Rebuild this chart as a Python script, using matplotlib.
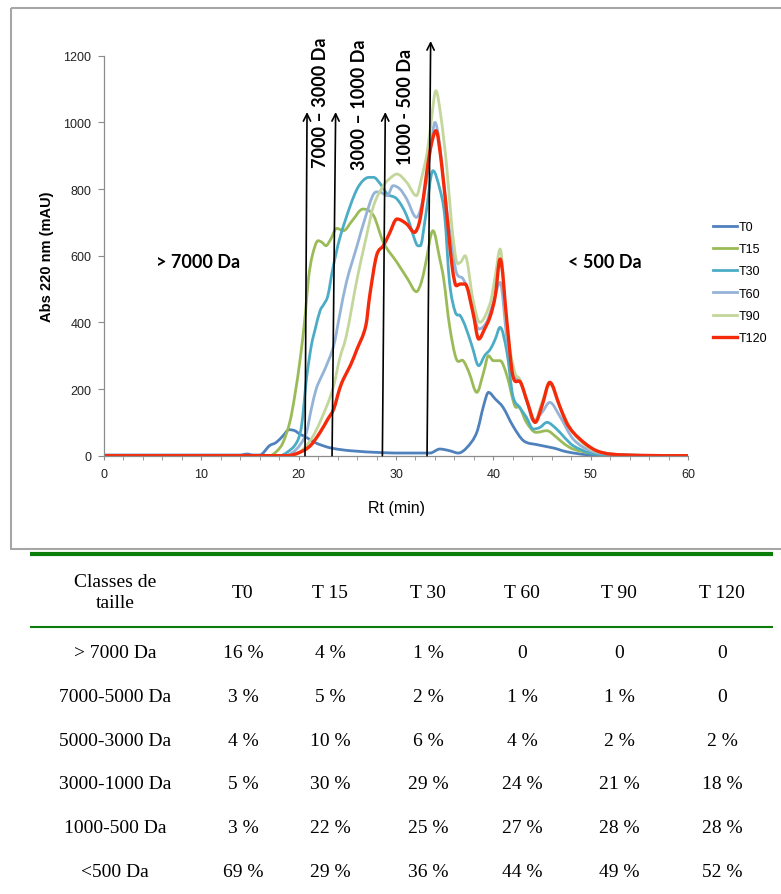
import matplotlib.pyplot as plt
from matplotlib.patches import Rectangle, PathPatch
from matplotlib.path import Path
from matplotlib.lines import Line2D

# Chromatogrammes (Rt en min, absorbance en mAU)
t0_t = [0, 14, 14.7, 15.3, 16.0, 17.0, 17.7, 18.4, 19.0, 19.6, 20.1, 20.8, 21.5, 22.5, 23.5, 25.3, 28.7, 31, 33.5,
        34.5, 35.5, 36.4, 37.3, 38.3, 39.0, 39.5, 40.2, 41.0, 42.0, 43.1, 44.5, 46.2, 47.5, 49.6, 52, 60]
t0_v = [2, 2, 5, 2, 2, 30, 40, 60, 78, 75, 65, 55, 42, 30, 22, 15, 9, 8, 8,
        20, 15, 8, 25, 70, 150, 190, 170, 145, 90, 45, 33, 23, 12, 3, 2, 0]

t15_t = [0, 17.0, 17.8, 18.4, 19.1, 19.6, 20.2, 20.7, 21.0, 21.4, 22.0, 22.4, 22.8, 23.3, 23.9, 24.6, 25.5, 26.6,
         27.7, 28.7, 30.1, 31.2, 32.1, 32.6, 33.0, 33.8, 34.5, 34.9, 35.5, 36.2, 36.9, 37.5, 38.3, 39.0, 39.5, 40.0,
         40.7, 41.4, 42.2, 42.7, 43.4, 44.4, 45.5, 46.5, 47.3, 48.2, 50, 52, 55, 60]
t15_v = [0, 0, 15, 40, 102, 180, 300, 430, 530, 600, 645, 640, 630, 650, 682, 675, 705, 740,
         720, 640, 580, 530, 492, 520, 570, 675, 590, 530, 390, 290, 285, 250, 190, 250, 300, 285,
         285, 240, 150, 145, 100, 70, 75, 55, 35, 20, 8, 3, 1, 0]

t30_t = [0, 18.0, 18.8, 19.8, 20.3, 20.8, 21.3, 21.7, 22.2, 22.6, 23.0, 23.5, 24.2, 25.3, 26.0, 26.6, 27.2, 27.7,
         28.4, 29.1, 30.1, 31.1, 32.1, 32.5, 33.0, 33.8, 34.5, 35.0, 35.5, 36.1, 36.6, 37.1, 37.8, 38.5, 39.1, 39.7,
         40.2, 40.7, 41.4, 42.0, 42.7, 43.4, 44.1, 44.8, 45.5, 46.5, 47.3, 48.2, 50, 52, 55, 60]
t30_v = [0, 0, 10, 40, 90, 230, 330, 380, 435, 455, 480, 560, 650, 750, 800, 825, 835, 835,
         815, 785, 770, 720, 635, 630, 710, 855, 800, 720, 520, 430, 420, 390, 330, 270, 300, 320,
         350, 385, 310, 180, 145, 115, 80, 85, 100, 80, 55, 30, 8, 3, 1, 0]

t60_t = [0, 18.5, 19.4, 20.2, 20.8, 21.3, 21.8, 22.3, 22.7, 23.6, 24.2, 24.9, 26.0, 26.9, 27.7, 28.4, 29.1, 29.7,
         30.4, 31.1, 32.1, 33.0, 33.6, 34.0, 34.5, 35.2, 35.7, 36.2, 36.9, 37.6, 38.5, 39.3, 40.0, 40.7, 41.4, 42.2,
         42.7, 43.4, 44.1, 45.0, 45.8, 46.8, 48.2, 50, 52, 55, 60]
t60_v = [0, 0, 10, 35, 70, 140, 200, 235, 260, 330, 420, 520, 630, 720, 785, 790, 780, 810,
         800, 770, 715, 800, 930, 1000, 930, 740, 640, 550, 530, 480, 380, 400, 460, 520, 350, 240,
         225, 170, 105, 130, 160, 120, 50, 15, 5, 1, 0]

t90_t = [0, 19.0, 20.1, 21.5, 22.9, 23.6, 24.2, 24.9, 26.0, 26.9, 27.7, 28.7, 29.5, 30.1, 31.1, 32.1, 32.6, 33.2,
         33.6, 34.1, 34.6, 35.2, 35.7, 36.2, 36.6, 37.1, 37.9, 38.6, 39.7, 40.2, 40.7, 41.4, 42.2, 42.7, 43.5, 44.3,
         45.0, 45.8, 46.8, 48.2, 50, 52, 55, 60]
t90_v = [0, 0, 10, 60, 150, 210, 290, 360, 530, 650, 750, 810, 835, 845, 820, 780, 830, 910,
         1000, 1095, 1020, 870, 700, 585, 580, 600, 470, 400, 460, 540, 620, 380, 250, 230, 160, 105,
         160, 215, 150, 70, 20, 6, 1, 0]

t120_t = [0, 18.8, 20.1, 21.2, 22.2, 23.0, 23.6, 24.2, 24.6, 25.3, 26.0, 26.9, 27.3, 28.0, 28.7, 29.3, 30.1, 31.1,
          31.9, 32.4, 32.8, 33.2, 33.6, 34.1, 34.7, 35.4, 35.8, 36.2, 36.6, 37.1, 37.9, 38.5, 39.1, 39.7, 40.2,
          40.7, 41.4, 42.0, 42.8, 43.5, 44.3, 45.0, 45.8, 46.8, 47.5, 48.2, 49.5, 50.6, 52, 55, 60]
t120_v = [0, 0, 10, 30, 70, 110, 140, 200, 230, 270, 320, 390, 480, 600, 630, 665, 710, 695,
          670, 700, 770, 860, 930, 975, 870, 670, 560, 510, 515, 515, 430, 350, 380, 420, 480,
          590, 400, 240, 220, 160, 100, 150, 220, 150, 100, 70, 35, 15, 5, 1, 0]

series = ["T0", "T15", "T30", "T60", "T90", "T120"]
couleurs = ["#4F81BD", "#9BBB59", "#4BACC6", "#95B3D7", "#C3D69B", "#F52A0A"]

# Fleches des limites de classes (base, pointe, hauteur)
fleche_base = [20.65, 23.43, 28.6, 33.19]
fleche_pointe = [20.86, 23.8, 28.9, 33.56]
fleche_haut = [1031, 1031, 1031, 1244]
etiq_txt = ["7000 \u2013 3000 Da", "3000 \u2013 1000 Da", "1000 - 500 Da"]
etiq_x = [22.2, 26.3, 31.0]
etiq_y = [1063, 1057, 1048]

# Tableau des classes de taille
classes = ["> 7000 Da", "7000-5000 Da", "5000-3000 Da", "3000-1000 Da", "1000-500 Da", "<500 Da"]
colonnes = ["T0", "T 15", "T 30", "T 60", "T 90", "T 120"]
pct_T0 = [16, 3, 4, 5, 3, 69]
pct_T15 = [4, 5, 10, 30, 22, 29]
pct_T30 = [1, 2, 6, 29, 25, 36]
pct_T60 = [0, 1, 4, 24, 27, 44]
pct_T90 = [0, 1, 2, 21, 28, 49]
pct_T120 = [0, 0, 2, 18, 28, 52]


def chemin_lisse(x, y):
    # ligne lissee facon Excel : segments de Bezier passant par chaque point
    n = len(x)
    pente = []
    for i in range(n):
        if i == 0 or i == n - 1:
            pente.append(0.0)
            continue
        g = (y[i] - y[i - 1]) / (x[i] - x[i - 1])
        d = (y[i + 1] - y[i]) / (x[i + 1] - x[i])
        if g * d <= 0:
            pente.append(0.0)
        else:
            pente.append((y[i + 1] - y[i - 1]) / (x[i + 1] - x[i - 1]))
    verts = [(x[0], y[0])]
    codes = [Path.MOVETO]
    for i in range(n - 1):
        h = x[i + 1] - x[i]
        verts += [(x[i] + h / 3, y[i] + pente[i] * h / 3),
                  (x[i + 1] - h / 3, y[i + 1] - pente[i + 1] * h / 3),
                  (x[i + 1], y[i + 1])]
        codes += [Path.CURVE4] * 3
    return Path(verts, codes)


fig = plt.figure(figsize=(7.81, 8.95), dpi=100)

# fond en pixels pour le cadre et le tableau
bg = fig.add_axes([0, 0, 1, 1], zorder=0)
bg.set_xlim(0, 781)
bg.set_ylim(895, 0)
bg.axis("off")
bg.add_patch(Rectangle((10.5, 8.5), 800, 541, fill=False, edgecolor="#A6A6A6", lw=1.5))

ax = fig.add_axes([104 / 781, 1 - 456.7 / 895, 584 / 781, 400 / 895], zorder=2)
ax.patch.set_alpha(0)
donnees = [(t0_t, t0_v), (t15_t, t15_v), (t30_t, t30_v), (t60_t, t60_v), (t90_t, t90_v), (t120_t, t120_v)]
poignees = []
for (tt, vv), nom, c in zip(donnees, series, couleurs):
    lw = 2.4 if nom == "T120" else 2.0
    ax.add_patch(PathPatch(chemin_lisse(tt, vv), facecolor="none", edgecolor=c, lw=lw,
                           joinstyle="round", capstyle="round"))
    poignees.append(Line2D([], [], color=c, lw=lw, label=nom))

ax.set_xlim(0, 60)
ax.set_ylim(0, 1200)
ax.set_xticks(range(0, 61, 10))
ax.set_xticks(range(0, 61, 2), minor=True)
ax.set_yticks(range(0, 1201, 200))
for s in ["top", "right"]:
    ax.spines[s].set_visible(False)
for s in ["left", "bottom"]:
    ax.spines[s].set_color("#8C8C8C")
    ax.spines[s].set_linewidth(0.9)
ax.tick_params(axis="both", which="both", direction="out", color="#8C8C8C", labelsize=9,
               labelcolor="#222222")
ax.tick_params(axis="y", length=4, pad=5)
ax.tick_params(axis="x", which="major", length=3, pad=6)
ax.tick_params(axis="x", which="minor", length=3)
for lab in ax.get_xticklabels() + ax.get_yticklabels():
    lab.set_family("Liberation Sans")

ax.set_ylabel("Abs 220 nm (mAU)", fontsize=10.5, fontweight="bold", family="Liberation Sans")
ax.yaxis.set_label_coords(-0.085, 0.5)
ax.set_xlabel("Rt (min)", fontsize=11.5, family="Liberation Sans")
ax.xaxis.set_label_coords(0.5, -0.11)

for b, p, h in zip(fleche_base, fleche_pointe, fleche_haut):
    ax.annotate("", xy=(p, h), xytext=(b, 0), annotation_clip=False,
                arrowprops=dict(arrowstyle="->", lw=1.2, color="black", shrinkA=0, shrinkB=0,
                                mutation_scale=13))
for txt, x, y in zip(etiq_txt, etiq_x, etiq_y):
    ax.text(x, y, txt, rotation=90, ha="center", va="center", fontsize=13, fontweight="bold",
            family="Lato", clip_on=False)
ax.text(9.66, 584, "> 7000 Da", ha="center", va="center", fontsize=13, fontweight="bold", family="Lato")
ax.text(51.5, 584, "< 500 Da", ha="center", va="center", fontsize=13, fontweight="bold", family="Lato")

ax.legend(handles=poignees, loc="upper left", bbox_to_anchor=(713 / 781, 1 - 222 / 895),
          bbox_transform=fig.transFigure, frameon=False, borderpad=0, borderaxespad=0,
          handlelength=1.92, handletextpad=0.16, labelspacing=0.82,
          prop={"family": "Liberation Sans", "size": 9})

# tableau
vert = "#0A7D0A"
bg.plot([30, 773], [555, 555], color=vert, lw=3, solid_capstyle="butt")
bg.plot([30, 773], [628, 628], color=vert, lw=1.5, solid_capstyle="butt")

col_x = [115, 243, 330, 428, 522, 619, 722]
ligne_y = [653, 697, 741, 785, 829, 873]
police = dict(family="Liberation Serif", fontsize=14, ha="center", va="center")
bg.text(col_x[0], 593, "Classes de\ntaille", linespacing=1.25, **police)
for x, nom in zip(col_x[1:], colonnes):
    bg.text(x, 593, nom, **police)

valeurs = [pct_T0, pct_T15, pct_T30, pct_T60, pct_T90, pct_T120]
for i, (cl, y) in enumerate(zip(classes, ligne_y)):
    bg.text(col_x[0], y, cl, **police)
    for x, col in zip(col_x[1:], valeurs):
        v = col[i]
        bg.text(x, y, "0" if v == 0 else f"{v} %", **police)

plt.savefig("out.png", dpi=100)
